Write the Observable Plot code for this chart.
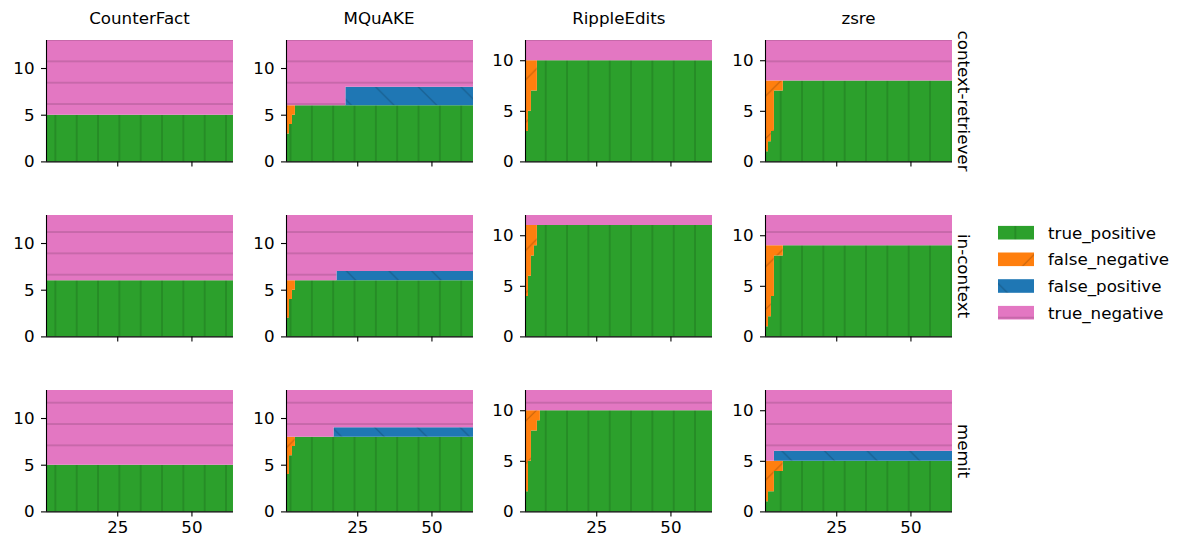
<!DOCTYPE html>
<html>
<head>
<meta charset="utf-8">
<script src="https://cdn.jsdelivr.net/npm/d3@7"></script>
<script src="https://cdn.jsdelivr.net/npm/@observablehq/plot@0.6"></script>
<style>
  html, body { margin: 0; padding: 0; background: #fff; }
  #chart { position: relative; width: 1184px; height: 543px; overflow: hidden; font-family: "DejaVu Sans", sans-serif; }
</style>
</head>
<body>
<div id="chart"></div>
<script>
// ---------------- data ----------------
const datasets = ["CounterFact", "MQuAKE", "RippleEdits", "zsre"];
const methods = ["context-retriever", "in-context", "memit"];
const categories = ["true_positive", "false_negative", "false_positive", "true_negative"];
const categoryColors = ["#2ca02c", "#ff7f0e", "#1f77b4", "#e377c2"];
const xTicks = [25, 50];
const yTicks = [0, 5, 10];
const xDomain = [1, 64];
const datasetTotals = [13, 13, 12, 12];

// step data per method (rows) and dataset (columns): [x where the count starts, count]
const truePositive = [
  [[[1, 5]], [[1, 3], [2, 4], [3, 5], [4, 6]], [[1, 3], [2, 5], [3, 7], [5, 10]], [[1, 1], [2, 2], [3, 3], [4, 7], [7, 8]]],
  [[[1, 6]], [[1, 2], [2, 4], [3, 5], [4, 6]], [[1, 4], [2, 6], [3, 8], [4, 9], [5, 11]], [[1, 1], [2, 2], [3, 4], [4, 8], [7, 9]]],
  [[[1, 5]], [[1, 4], [2, 6], [3, 7], [4, 8]], [[1, 2], [2, 5], [3, 8], [5, 9], [6, 10]], [[1, 1], [2, 2], [4, 4], [7, 5]]]
];
const falseNegative = [
  [[[1, 0]], [[1, 3], [2, 2], [3, 1], [4, 0]], [[1, 7], [2, 5], [3, 3], [5, 0]], [[1, 7], [2, 6], [3, 5], [4, 1], [7, 0]]],
  [[[1, 0]], [[1, 4], [2, 2], [3, 1], [4, 0]], [[1, 7], [2, 5], [3, 3], [4, 2], [5, 0]], [[1, 8], [2, 7], [3, 5], [4, 1], [7, 0]]],
  [[[1, 0]], [[1, 4], [2, 2], [3, 1], [4, 0]], [[1, 8], [2, 5], [3, 2], [5, 1], [6, 0]], [[1, 4], [2, 3], [4, 1], [7, 0]]]
];
const falsePositive = [
  [[[1, 0]], [[1, 0], [21, 2]], [[1, 0]], [[1, 0]]],
  [[[1, 0]], [[1, 0], [18, 1]], [[1, 0]], [[1, 0]]],
  [[[1, 0]], [[1, 0], [17, 1]], [[1, 0]], [[1, 0], [4, 1]]]
];
const trueNegative = [
  [[[1, 8]], [[1, 7], [21, 5]], [[1, 2]], [[1, 4]]],
  [[[1, 7]], [[1, 7], [18, 6]], [[1, 1]], [[1, 3]]],
  [[[1, 8]], [[1, 5], [17, 4]], [[1, 2]], [[1, 7], [4, 6]]]
];
const seriesByCategory = [truePositive, falseNegative, falsePositive, trueNegative];

// ---------------- layout ----------------
const FONT = "16.7px";
const colLeft = [46, 285.5, 525.3, 765];
const rowTop = [40.3, 215.3, 390.3];
const innerW = 187, innerH = 121.4;
const ML = 46, MR = 8, MT = 12, MB = 30;
const HP = 21.333, DP = 42.667; // hatch periods
const NS = "http://www.w3.org/2000/svg";
const mod = (a, m) => ((a % m) + m) % m;

function addPatterns(svg, pid, left, top) {
  const defs = document.createElementNS(NS, "defs");
  const specs = [
    {cat: 0, w: HP, h: HP, x: 12.7 - left - HP / 2, y: 0, d: `M${HP / 2},-1V${HP + 1}`},
    {cat: 1, w: DP, h: DP, x: mod(8.6 - left - top, DP), y: 0,
     d: `M0,${DP}L${DP},0M${-DP / 4},${DP / 4}L${DP / 4},${-DP / 4}M${3 * DP / 4},${5 * DP / 4}L${5 * DP / 4},${3 * DP / 4}`},
    {cat: 2, w: DP, h: DP, x: mod(32 - left + top, DP), y: 0,
     d: `M0,0L${DP},${DP}M${-DP / 4},${3 * DP / 4}L${DP / 4},${5 * DP / 4}M${3 * DP / 4},${-DP / 4}L${5 * DP / 4},${DP / 4}`},
    {cat: 3, w: HP, h: HP, x: 0, y: 19 - top - HP / 2, d: `M-1,${HP / 2}H${HP + 1}`}
  ];
  for (const s of specs) {
    const p = document.createElementNS(NS, "pattern");
    p.setAttribute("id", `${pid}-${categories[s.cat]}`);
    p.setAttribute("patternUnits", "userSpaceOnUse");
    p.setAttribute("x", s.x);
    p.setAttribute("y", s.y);
    p.setAttribute("width", s.w);
    p.setAttribute("height", s.h);
    const r = document.createElementNS(NS, "rect");
    r.setAttribute("width", s.w);
    r.setAttribute("height", s.h);
    r.setAttribute("fill", categoryColors[s.cat]);
    p.appendChild(r);
    const path = document.createElementNS(NS, "path");
    path.setAttribute("d", s.d);
    path.setAttribute("stroke", "rgba(0,0,0,0.24)");
    path.setAttribute("stroke-width", "1");
    path.setAttribute("fill", "none");
    p.appendChild(path);
    defs.appendChild(p);
  }
  svg.insertBefore(defs, svg.firstChild);
}

function valueAt(steps, x) {
  let v = 0;
  for (const [sx, sv] of steps) if (sx <= x) v = sv;
  return v;
}

const chart = document.getElementById("chart");

methods.forEach((method, mi) => {
  datasets.forEach((dataset, di) => {
    const stepsList = seriesByCategory.map(s => s[mi][di]);
    const xs = Array.from(new Set([...stepsList.flat().map(d => d[0]), xDomain[1]])).sort((a, b) => a - b);
    const rows = [];
    for (const x of xs) {
      categories.forEach((c, ci) => rows.push({x, category: c, value: valueAt(stepsList[ci], x)}));
    }
    const pid = `p${mi}${di}`;
    const left = colLeft[di] - ML, top = rowTop[mi] - MT;
    const bottomRow = mi === methods.length - 1;
    const svg = Plot.plot({
      width: ML + innerW + MR,
      height: MT + innerH + MB,
      marginLeft: ML, marginRight: MR, marginTop: MT, marginBottom: MB,
      style: {
        background: "transparent", fontFamily: "DejaVu Sans, sans-serif", fontSize: FONT,
        overflow: "visible", position: "absolute", left: left + "px", top: top + "px", maxWidth: "none", color: "#000"
      },
      x: {domain: xDomain},
      y: {domain: [0, datasetTotals[di]]},
      color: {domain: categories, range: categories.map(c => `url(#${pid}-${c})`)},
      marks: [
        Plot.areaY(rows, {x: "x", y: "value", fill: "category", curve: "step-after", order: categories}),
        Plot.axisX({ticks: xTicks, tickSize: 5, tickPadding: 4, strokeWidth: 1.1, label: null,
          tickFormat: bottomRow ? (d => String(d)) : (() => "")}),
        Plot.axisY({ticks: yTicks, tickSize: 5, tickPadding: 7, strokeWidth: 1.1, label: null}),
        Plot.ruleX([xDomain[0]], {stroke: "#000", strokeWidth: 1.1}),
        Plot.ruleY([0], {stroke: "#000", strokeWidth: 1.1})
      ]
    });
    addPatterns(svg, pid, left, top);
    chart.appendChild(svg);
  });
});

// ---------------- titles, row labels and legend (overlay in page coordinates) ----------------
const overlay = d3.select(chart).append("svg")
  .attr("width", 1184).attr("height", 543)
  .style("position", "absolute").style("left", "0px").style("top", "0px")
  .style("font-family", "DejaVu Sans, sans-serif").style("font-size", FONT);
addPatterns(overlay.node(), "legend", 0, 0);

datasets.forEach((d, di) => {
  overlay.append("text")
    .attr("x", colLeft[di] + innerW / 2).attr("y", 18)
    .attr("text-anchor", "middle").attr("dominant-baseline", "central")
    .attr("fill", "#000").text(d);
});
methods.forEach((m, mi) => {
  const cy = rowTop[mi] + innerH / 2;
  overlay.append("text")
    .attr("transform", `translate(963.5,${cy}) rotate(90)`)
    .attr("text-anchor", "middle").attr("dominant-baseline", "central")
    .attr("fill", "#000").text(m);
});
const legendY = [232.7, 259.3, 286, 312.7];
categories.forEach((c, ci) => {
  overlay.append("rect")
    .attr("x", 998).attr("y", legendY[ci] - 6.8).attr("width", 36).attr("height", 13.6)
    .attr("fill", `url(#legend-${c})`);
  overlay.append("text")
    .attr("x", 1048).attr("y", legendY[ci])
    .attr("dominant-baseline", "central").attr("fill", "#000").text(c);
});
</script>
</body>
</html>
